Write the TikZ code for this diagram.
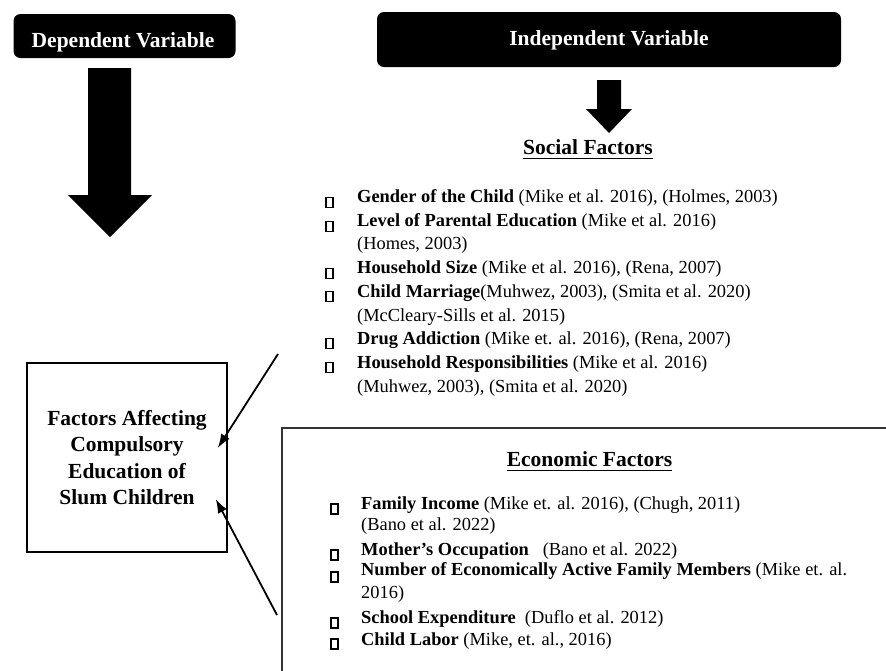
\documentclass[tikz,border=0pt]{standalone}
\usepackage{fontspec}
\setmainfont{Liberation Serif}
\usetikzlibrary{arrows.meta}

\newcommand{\hfnt}{\bfseries\fontsize{21.5}{26.5}\selectfont}
\newcommand{\bfnt}{\fontsize{18.4}{23.7}\selectfont}

\tikzset{
  varbox/.style={fill=black, rounded corners=7pt, inner sep=0pt},
  vartext/.style={text=white, font=\hfnt, inner sep=0pt, anchor=base},
  heading/.style={font=\hfnt, inner sep=0pt, anchor=base},
  item/.style={font=\bfnt, inner sep=0pt, anchor=base west},
  tofu/.style={draw, line width=1.3pt, minimum width=7pt, minimum height=10pt, inner sep=0pt},
  link/.style={-{Latex[length=14pt,width=10pt]}, line width=1.8pt},
}

\begin{document}
\begin{tikzpicture}[x=1pt,y=-1pt]
    \clip (0,0) rectangle (886,670);

    % variable headers
    \node[varbox, minimum width=222pt, minimum height=44pt] (dep) at (124.5,36) {};
    \node[vartext] (deplab) at (123,47) {Dependent Variable};
    \node[varbox, minimum width=464pt, minimum height=55pt] (ind) at (609,39.5) {};
    \node[vartext] (indlab) at (609,45) {Independent Variable};

    % block arrows
    \fill (88,68) -- (131,68) -- (131,195) -- (152,195) -- (110,237) -- (68,195) -- (88,195) -- cycle;
    \fill (597,80) -- (621,80) -- (621,109) -- (632,109) -- (609,133) -- (586,109) -- (597,109) -- cycle;

    % outcome
    \node[draw, line width=1.5pt, minimum width=200pt, minimum height=189pt, align=center, font=\hfnt] (fac) at (127,457.5)
        {Factors Affecting\\Compulsory\\Education of\\Slum Children};

    % social factors
    \node[heading] (soc) at (588,154) {Social Factors};
    \draw[line width=1.5pt] ([yshift=-4.5pt]soc.base west) -- ([yshift=-4.5pt]soc.base east);

    \node[tofu] (sb1) at (329.5,202.5) {};
    \node[tofu] (sb2) at (329.5,226.2) {};
    \node[tofu] (sb3) at (329.5,273.6) {};
    \node[tofu] (sb4) at (329.5,296.5) {};
    \node[tofu] (sb5) at (329.5,343.5) {};
    \node[tofu] (sb6) at (329.5,367.5) {};

    \node[item] (s1) at (357,202.5) {\textbf{Gender of the Child} (Mike et al. 2016), (Holmes, 2003)};
    \node[item] (s2) at (357,226.2) {\textbf{Level of Parental Education} (Mike et al. 2016)};
    \node[item] (s2b) at (357,249.9) {(Homes, 2003)};
    \node[item] (s3) at (357,273.6) {\textbf{Household Size} (Mike et al. 2016), (Rena, 2007)};
    \node[item] (s4) at (357,297.3) {\textbf{Child Marriage}(Muhwez, 2003), (Smita et al. 2020)};
    \node[item] (s4b) at (357,321) {(McCleary-Sills et al. 2015)};
    \node[item] (s5) at (357,344.7) {\textbf{Drug Addiction} (Mike et. al. 2016), (Rena, 2007)};
    \node[item] (s6) at (357,368.4) {\textbf{Household Responsibilities} (Mike et al. 2016)};
    \node[item] (s6b) at (357,392.1) {(Muhwez, 2003), (Smita et al. 2020)};

    % economic factors
    \draw[line width=2pt, black!80] (282,428) rectangle (900,700);
    \node[heading] (eco) at (589.5,466) {Economic Factors};
    \draw[line width=1.5pt] ([yshift=-4.5pt]eco.base west) -- ([yshift=-4.5pt]eco.base east);

    \node[tofu] (eb1) at (334.5,509) {};
    \node[tofu] (eb2) at (334.5,555) {};
    \node[tofu] (eb3) at (334.5,577) {};
    \node[tofu] (eb4) at (334.5,623) {};
    \node[tofu] (eb5) at (334.5,644) {};

    \node[item] (e1) at (361,509) {\textbf{Family Income} (Mike et. al. 2016), (Chugh, 2011)};
    \node[item] (e1b) at (361,530) {(Bano et al. 2022)};
    \node[item] (e2) at (361,555) {\textbf{Mother’s Occupation}\ \ \ (Bano et al. 2022)};
    \node[item] (e3) at (361,575) {\textbf{Number of Economically Active Family Members} (Mike et. al.};
    \node[item] (e3b) at (361,598) {2016)};
    \node[item] (e4) at (361,623) {\textbf{School Expenditure}\enspace(Duflo et al. 2012)};
    \node[item] (e5) at (361,645) {\textbf{Child Labor} (Mike, et. al., 2016)};

    % links into the outcome box
    \coordinate (t1) at (278,354);
    \coordinate (t2) at (277,615);
    \draw[link] (t1) -- ([xshift=-10pt,yshift=9.5pt]fac.east);
    \draw[link] (t2) -- ([xshift=-12pt,yshift=-41.5pt]fac.east);

\end{tikzpicture}
\end{document}
